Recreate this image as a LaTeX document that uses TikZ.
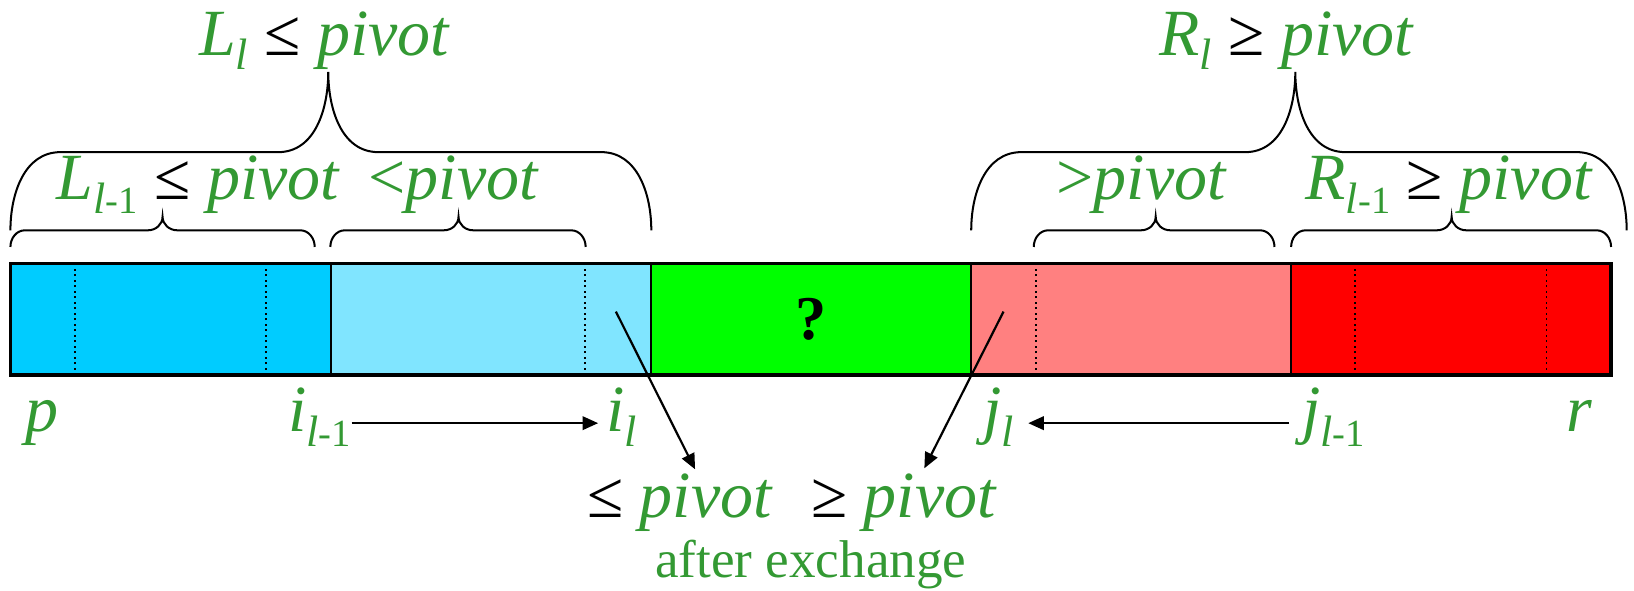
\documentclass[tikz,border=0pt]{standalone}
\usepackage{fontspec}
\setmainfont{Liberation Serif}
\usetikzlibrary{arrows.meta}
\definecolor{txtgreen}{RGB}{51,153,51}
\definecolor{cyandark}{RGB}{0,204,255}
\definecolor{cyanlight}{RGB}{128,229,255}
\definecolor{unknown}{RGB}{0,255,0}
\definecolor{redlight}{RGB}{255,128,128}
\definecolor{reddark}{RGB}{255,0,0}
% subscripts: l, l-1
\newcommand{\lsub}[1]{\raisebox{-4pt}{\fontsize{12}{12}\selectfont\itshape #1}}
\newcommand{\lmo}{\lsub{l\upshape\fontsize{10.5}{10.5}\selectfont -1}}
\newcommand{\rel}[1]{{\upshape\color{black}#1}}
% brace: left, right, tip, y end, y line, y tip, radius
\newcommand{\brc}[7]{\draw[brcline] (#1,#4) to[out=90,in=180] ({#1+#7},#5) -- ({#3-#7},#5) to[out=0,in=-90] (#3,#6) to[out=-90,in=180] ({#3+#7},#5) -- ({#2-#7},#5) to[out=0,in=90] (#2,#4);}

\begin{document}
\begin{tikzpicture}[x=0.01cm,y=0.01cm,
  lbl/.style={text=txtgreen,font=\fontsize{18}{20}\selectfont\itshape,inner sep=0pt},
  brcline/.style={line width=0.55pt},
  arr/.style={line width=0.6pt,-{Triangle[length=0.15cm,width=0.13cm]}},
  divline/.style={line width=0.6pt},
  dotline/.style={line width=0.5pt,densely dotted}]
  \useasboundingbox (0,0) rectangle (1568,567);
  % the array
  \foreach \xa/\xb/\col in {10/318/cyandark,318/625/cyanlight,625/932/unknown,932/1239/redlight,1239/1546/reddark}
    \fill[\col] (\xa,207) rectangle (\xb,314);
  \foreach \x in {72,255,561,994,1300,1484} \draw[dotline] (\x,207) -- (\x,314);
  \foreach \x in {318,625,932,1239} \draw[divline] (\x,207) -- (\x,314);
  \draw[line width=0.9pt] (10,207) rectangle (1546,314);
  \node[font=\fontsize{17}{17}\selectfont\bfseries] (q) at (778,260.5) {?};

  % braces
  \brc{10}{302}{156}{330}{346}{359}{14}
  \brc{317}{562}{440}{330}{346}{359}{14}
  \brc{992}{1223}{1109}{330}{346}{359}{14}
  \brc{1239}{1546}{1393}{330}{346}{359}{14}
  \brc{10}{625}{315}{346}{421}{498}{48}
  \brc{932}{1561}{1243}{346}{421}{498}{48}

  \node[lbl,anchor=base] (Ll) at (311,514) {L\lsub{l} \rel{≤} pivot};
  \node[lbl,anchor=base] (Rl) at (1234.5,514) {R\lsub{l} \rel{≥} pivot};
  \node[lbl,anchor=base] (Llm) at (190,376) {L\lmo\ \rel{≤} pivot};
  \node[lbl,anchor=base] (lt) at (435,376) {\upshape<\itshape pivot};
  \node[lbl,anchor=base] (gt) at (1095,376) {\upshape>\itshape pivot};
  \node[lbl,anchor=base] (Rlm) at (1390,376) {R\lmo\ \rel{≥} pivot};

  % indices
  \node[lbl,anchor=base west] (p) at (24,153) {p};
  \node[lbl,anchor=base west] (il1) at (276,153) {i\lmo};
  \node[lbl,anchor=base west] (il) at (581,153) {i\lsub{l}};
  \node[lbl,anchor=base west] (jl) at (943,153) {j\lsub{l}};
  \node[lbl,anchor=base west] (jl1) at (1249,153) {j\lmo};
  \node[lbl,anchor=base west] (r) at (1503,153) {r};
  \draw[arr,shorten >=0.07cm] ([yshift=-0.06cm]il1.east) -- ([yshift=-0.06cm]il.west);
  \draw[arr,shorten <=0.12cm,shorten >=0.13cm] ([yshift=-0.06cm]jl1.west) -- ([yshift=-0.06cm]jl.east);

  % exchange
  \node[lbl,anchor=base] (le) at (652,70) {\rel{≤} pivot};
  \node[lbl,anchor=base] (ge) at (867,70) {\rel{≥} pivot};
  \node[lbl,anchor=base,font=\fontsize{14.5}{16}\selectfont] (ex) at (778,13) {after exchange};
  \coordinate (sl) at (591,268);
  \coordinate (sg) at (963,268);
  \draw[arr] (sl) -- ([xshift=0.15cm,yshift=0.04cm]le.north);
  \draw[arr] (sg) -- ([xshift=0.2cm,yshift=0.05cm]ge.north);
\end{tikzpicture}
\end{document}
